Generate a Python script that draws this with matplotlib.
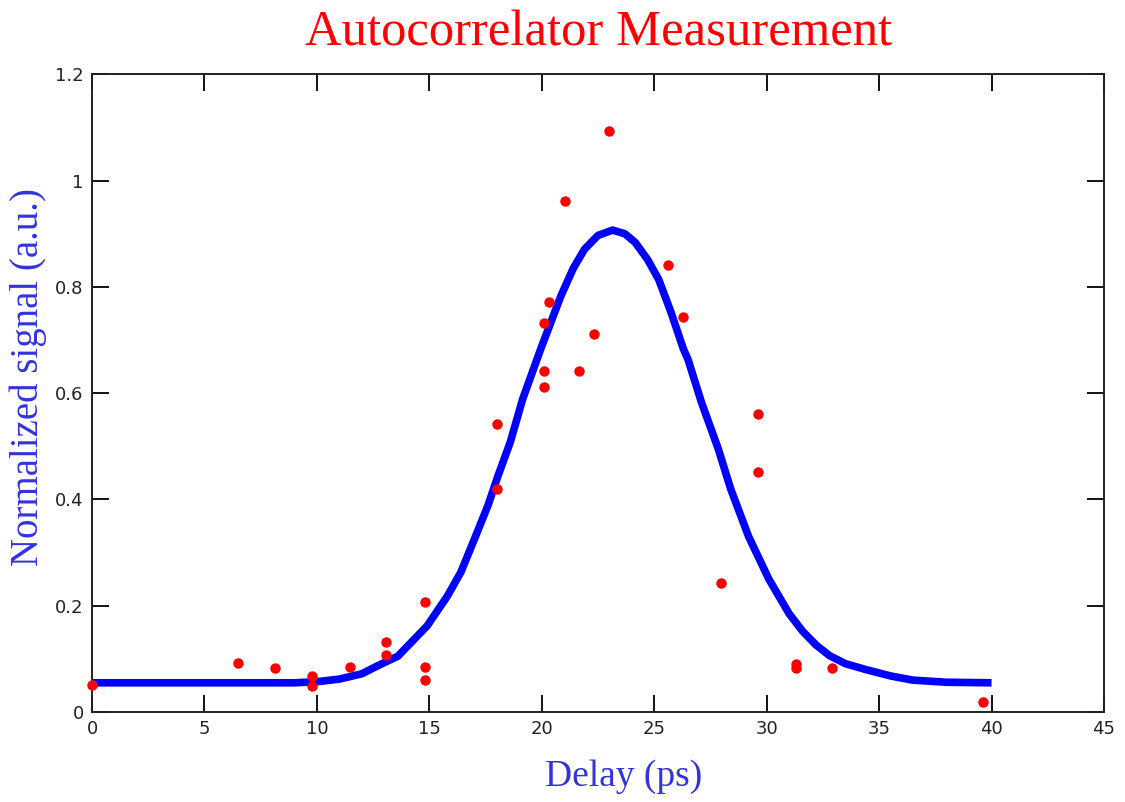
import matplotlib
matplotlib.use("Agg")
import matplotlib.pyplot as plt

# measured points (delay in ps, normalized signal)
meas_delay = [0.0, 6.5, 8.15, 9.8, 9.8, 11.45, 13.06, 13.06, 14.8, 14.8, 14.8,
              18.0, 18.0, 20.1, 20.1, 20.1, 20.3, 21.03, 21.66, 22.33, 23.0,
              25.6, 26.3, 27.95, 29.6, 29.6, 31.3, 31.3, 32.9, 39.6]
meas_signal = [0.051, 0.092, 0.083, 0.068, 0.049, 0.085, 0.132, 0.108, 0.207, 0.085, 0.060,
               0.543, 0.42, 0.733, 0.641, 0.611, 0.771, 0.961, 0.641, 0.711, 1.093,
               0.841, 0.743, 0.243, 0.560, 0.451, 0.090, 0.082, 0.083, 0.019]

# fitted curve
fit_delay = [0, 2, 4, 6, 8, 9, 10, 11, 12, 12.7, 13.6, 14.9, 15.8, 16.4, 17.0, 17.6,
             18.05, 18.6, 19.15, 19.95, 20.85, 21.4, 21.9, 22.5, 23.15, 23.7, 24.15,
             24.7, 25.2, 25.75, 26.3, 26.5, 27.1, 27.85, 28.4, 29.2, 30.1, 31.0, 31.6,
             32.2, 32.8, 33.5, 34.4, 35.5, 36.5, 38, 40]
fit_signal = [0.055, 0.055, 0.055, 0.055, 0.055, 0.055, 0.057, 0.062, 0.072, 0.087, 0.105,
              0.162, 0.218, 0.263, 0.325, 0.388, 0.444, 0.508, 0.589, 0.683, 0.783, 0.835,
              0.871, 0.897, 0.907, 0.900, 0.884, 0.852, 0.814, 0.752, 0.683, 0.664, 0.583,
              0.495, 0.42, 0.33, 0.25, 0.185, 0.152, 0.126, 0.106, 0.091, 0.080, 0.068,
              0.060, 0.056, 0.055]

xticks = [0, 5, 10, 15, 20, 25, 30, 35, 40, 45]
yticks = [0, 0.2, 0.4, 0.6, 0.8, 1.0, 1.2]
ytick_labels = ["0", "0.2", "0.4", "0.6", "0.8", "1", "1.2"]

fig = plt.figure(figsize=(11.25, 8.02), dpi=100)
ax = fig.add_axes([0.0818, 0.1122, 0.8995, 0.795])

ax.plot(fit_delay, fit_signal, color="#0000ff", lw=5.5, solid_capstyle="butt",
        solid_joinstyle="round", zorder=2)
ax.plot(meas_delay, meas_signal, "o", color="#ff0000", ms=7.5, mew=0, zorder=3, clip_on=False)

ax.set_xlim(0, 45)
ax.set_ylim(0, 1.2)
ax.set_xticks(xticks)
ax.set_yticks(yticks)
ax.set_yticklabels(ytick_labels)
ax.tick_params(direction="in", length=12, width=1.3, top=True, right=True,
               labelsize=13, labelcolor="#222222", pad=6)
for s in ax.spines.values():
    s.set_linewidth(1.4)
    s.set_color("#222222")

serif = ["Liberation Serif", "DejaVu Serif"]
fig.text(0.532, 0.958, "Autocorrelator Measurement", color="#ff0000",
         fontsize=36.5, family=serif, ha="center", va="center")
fig.text(0.554, 0.031, "Delay (ps)", color="#3333dd",
         fontsize=27, family=serif, ha="center", va="center")
fig.text(0.025, 0.53, "Normalized signal (a.u.)", color="#3333dd",
         fontsize=28, family=serif, ha="center", va="center", rotation=90)

fig.savefig("out.png", dpi=100)
